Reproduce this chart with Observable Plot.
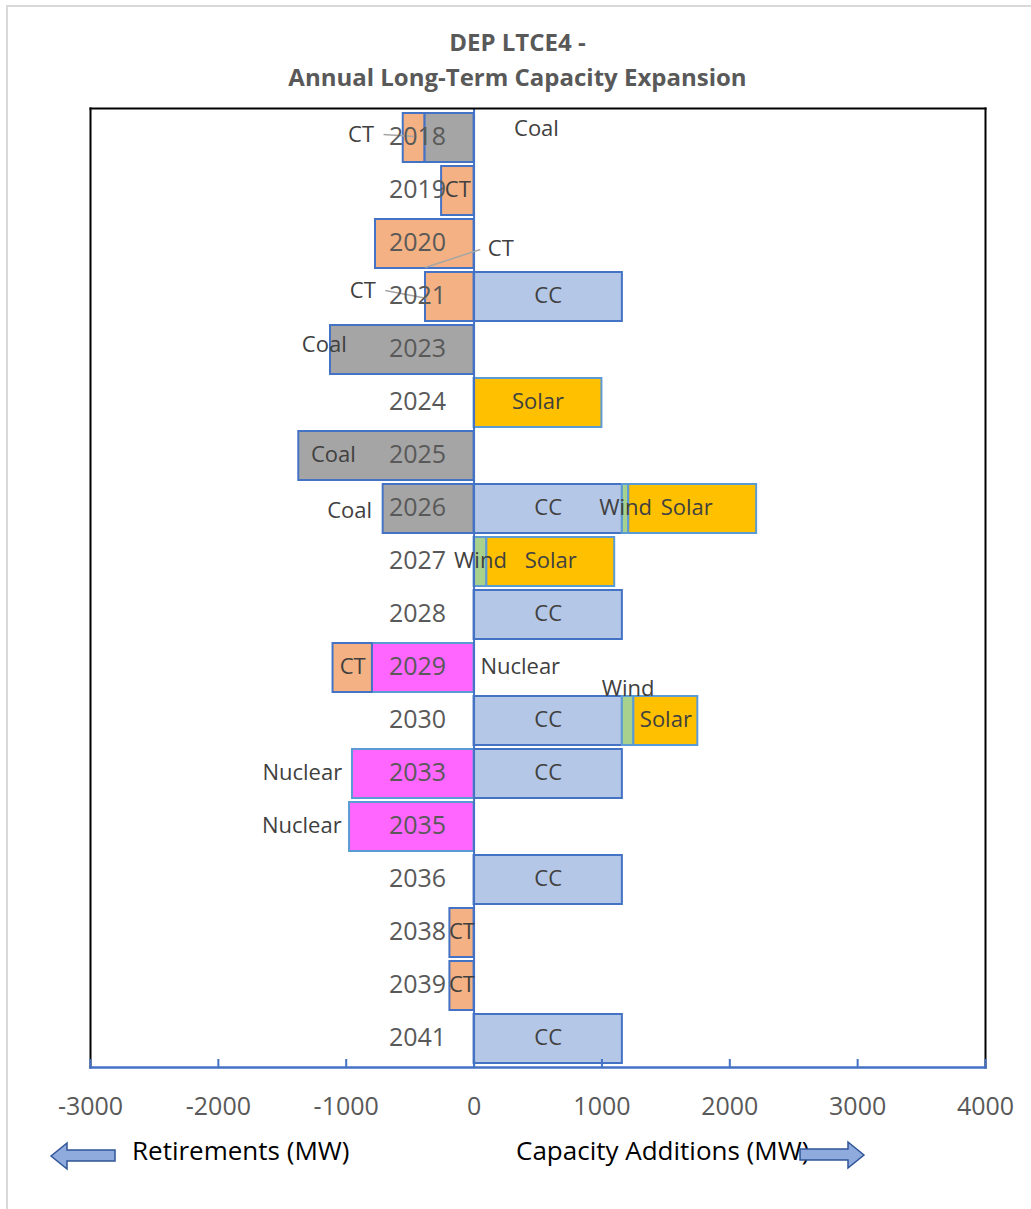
<!DOCTYPE html>
<html>
<head>
<meta charset="utf-8">
<script src="https://cdn.jsdelivr.net/npm/d3@7"></script>
<script src="https://cdn.jsdelivr.net/npm/@observablehq/plot@0.6"></script>
<style>
  body { margin: 0; background: #fff; font-family: "Open Sans", sans-serif; }
  #chart { position: relative; width: 1031px; height: 1209px; overflow: hidden; background: #fff; }
  #border { position: absolute; left: 6px; top: 5px; width: 1060px; height: 1240px; border: 2px solid #d9d9d9; box-sizing: border-box; }
  #title { position: absolute; left: 2px; top: 24px; width: 1031px; text-align: center;
           font-weight: 700; font-size: 24px; line-height: 35px; color: #595959; }
  #plot { position: absolute; left: 0; top: 0; }
  .caption { position: absolute; font-size: 26px; color: #000; line-height: 30px; white-space: nowrap; }
  #arrows { position: absolute; left: 0; top: 0; }
</style>
</head>
<body>
<div id="chart">
  <div id="border"></div>
  <div id="plot"></div>
  <div id="title">DEP LTCE4 -<br>Annual Long-Term Capacity Expansion</div>
  <div class="caption" style="left:132px; top:1135px;">Retirements (MW)</div>
  <div class="caption" style="left:516px; top:1135px;">Capacity Additions (MW)</div>
  <svg id="arrows" width="1031" height="1209">
    <path d="M51,1156 L67,1143 L67,1150 L115,1150 L115,1161 L67,1161 L67,1169 Z" fill="#8faadc" stroke="#2f5597" stroke-width="1.5"/>
    <path d="M864,1155 L848,1142 L848,1149 L800,1149 L800,1160 L848,1160 L848,1168 Z" fill="#8faadc" stroke="#2f5597" stroke-width="1.5"/>
  </svg>
</div>
<script>
// Years shown on the category axis
const years = ["2018", "2019", "2020", "2021", "2023", "2024", "2025", "2026", "2027",
               "2028", "2029", "2030", "2033", "2035", "2036", "2038", "2039", "2041"];

// Capacity additions (MW, positive)
const cc    = [0, 0, 0, 1160, 0, 0, 0, 1160, 0, 1160, 0, 1160, 1160, 0, 1160, 0, 0, 1160];
const wind  = [0, 0, 0, 0, 0, 0, 0, 50, 100, 0, 0, 90, 0, 0, 0, 0, 0, 0];
const solar = [0, 0, 0, 0, 0, 1000, 0, 1000, 1000, 0, 0, 500, 0, 0, 0, 0, 0, 0];

// Retirements (MW, negative)
const coal    = [-385, 0, 0, 0, -1123, 0, -1371, -711, 0, 0, 0, 0, 0, 0, 0, 0, 0, 0];
const nuclear = [0, 0, 0, 0, 0, 0, 0, 0, 0, 0, -795, 0, -951, -974, 0, 0, 0, 0];
const ct      = [-169, -254, -771, -380, 0, 0, 0, 0, 0, 0, -308, 0, 0, 0, 0, -189, -189, 0];

// Axis ticks
const xTicks = [-3000, -2000, -1000, 0, 1000, 2000, 3000, 4000];

// Stacking order: first series sits next to the zero line
const seriesOrder = ["CC", "Wind", "Solar", "Coal", "Nuclear", "CT"];
const seriesValues = { CC: cc, Wind: wind, Solar: solar, Coal: coal, Nuclear: nuclear, CT: ct };

const fills   = { CC: "#b4c7e7", Wind: "#a9d18e", Solar: "#ffc000", Coal: "#a5a5a5", Nuclear: "#ff66ff", CT: "#f4b183" };
const strokes = { CC: "#4472c4", Wind: "#5b9bd5", Solar: "#5b9bd5", Coal: "#4472c4", Nuclear: "#5b9bd5", CT: "#4472c4" };

// Build stacked segments (positives and negatives stack separately from zero)
const segments = [];
years.forEach((year, i) => {
  let pos = 0, neg = 0;
  for (const type of seriesOrder) {
    const v = seriesValues[type][i];
    if (!v) continue;
    let x1, x2;
    if (v > 0) { x1 = pos; x2 = pos + v; pos = x2; }
    else { x1 = neg; x2 = neg + v; neg = x2; }
    segments.push({ year, type, value: v, x1, x2, mid: (x1 + x2) / 2 });
  }
});

// Hand-placed data labels (pixel offsets from the segment centre)
const labelShift = {
  "2018 CT": { dx: -53, dy: -2 },
  "2018 Coal": { dx: 87, dy: -8 },
  "2020 CT": { dx: 76, dy: 6 },
  "2021 CT": { dx: -87, dy: -5 },
  "2023 Coal": { dx: -78, dy: -4 },
  "2025 Coal": { dx: -53, dy: 0 },
  "2026 Coal": { dx: -79, dy: 3 },
  "2026 Solar": { dx: -6, dy: 0 },
  "2029 Nuclear": { dx: 97, dy: 0 },
  "2030 Wind": { dx: 0, dy: -31 },
  "2033 Nuclear": { dx: -111, dy: 0 },
  "2035 Nuclear": { dx: -110, dy: 0 }
};

// Leader lines for labels moved away from their segments (pixel offsets from segment centre)
const leaders = [
  { key: "2018 CT", from: [-30, -3], to: [0, -1] },
  { key: "2020 CT", from: [1, 24], to: [56, 6] },
  { key: "2021 CT", from: [-64, -6], to: [-22, 2] }
];

const W = 1031, H = 1209;
const M = { top: 108, right: 46, bottom: 142, left: 90 };
const padInner = 0.08, padOuter = 0.04;

const segIndex = new Map(segments.map(s => [s.year + " " + s.type, s]));

const labelMarks = segments.map(s => {
  const sh = labelShift[s.year + " " + s.type] || { dx: 0, dy: 0 };
  return Plot.text([s], {
    x: "mid", y: "year", text: "type",
    dx: sh.dx, dy: sh.dy - 1,
    fontSize: 22, fill: "#404040"
  });
});

function leaderMark(index, scales) {
  const step = (H - M.top - M.bottom) / (years.length - padInner + 2 * padOuter);
  const bw = (scales.scales && scales.scales.y && scales.scales.y.bandwidth) || step * (1 - padInner);
  const g = d3.create("svg:g");
  for (const l of leaders) {
    const s = segIndex.get(l.key);
    const cx = scales.x(s.mid), cy = scales.y(s.year) + bw / 2;
    g.append("line")
      .attr("x1", cx + l.from[0]).attr("y1", cy + l.from[1])
      .attr("x2", cx + l.to[0]).attr("y2", cy + l.to[1])
      .attr("stroke", "#a6a6a6").attr("stroke-width", 1.5);
  }
  return g.node();
}

const chart = Plot.plot({
  width: W, height: H,
  marginTop: M.top, marginRight: M.right, marginBottom: M.bottom, marginLeft: M.left,
  style: { fontFamily: "Open Sans, sans-serif", background: "transparent", overflow: "visible" },
  x: { domain: [-3000, 4000] },
  y: { domain: years, paddingInner: padInner, paddingOuter: padOuter, axis: null },
  marks: [
    Plot.barX(segments, {
      x1: "x1", x2: "x2", y: "year",
      fill: d => fills[d.type], stroke: d => strokes[d.type], strokeWidth: 2
    }),
    Plot.ruleX([0], { stroke: "#4472c4", strokeWidth: 2 }),
    leaderMark,
    Plot.text(years, {
      x: 0, y: d => d, text: d => d,
      textAnchor: "end", dx: -28, dy: -1, fontSize: 25, fill: "#595959"
    }),
    ...labelMarks,
    Plot.frame({ anchor: "top", stroke: "#000", strokeWidth: 2 }),
    Plot.frame({ anchor: "left", stroke: "#000", strokeWidth: 2 }),
    Plot.frame({ anchor: "right", stroke: "#000", strokeWidth: 2 }),
    Plot.frame({ anchor: "bottom", stroke: "#4472c4", strokeWidth: 2.5 }),
    Plot.ruleX(xTicks, { stroke: "#4472c4", strokeWidth: 2, insetTop: H - M.top - M.bottom - 8 }),
    Plot.axisX({
      ticks: xTicks, tickSize: 0, tickPadding: 30,
      tickFormat: d => String(d), fontSize: 25, fill: "#595959", label: null
    })
  ]
});

document.getElementById("plot").appendChild(chart);
</script>
</body>
</html>
